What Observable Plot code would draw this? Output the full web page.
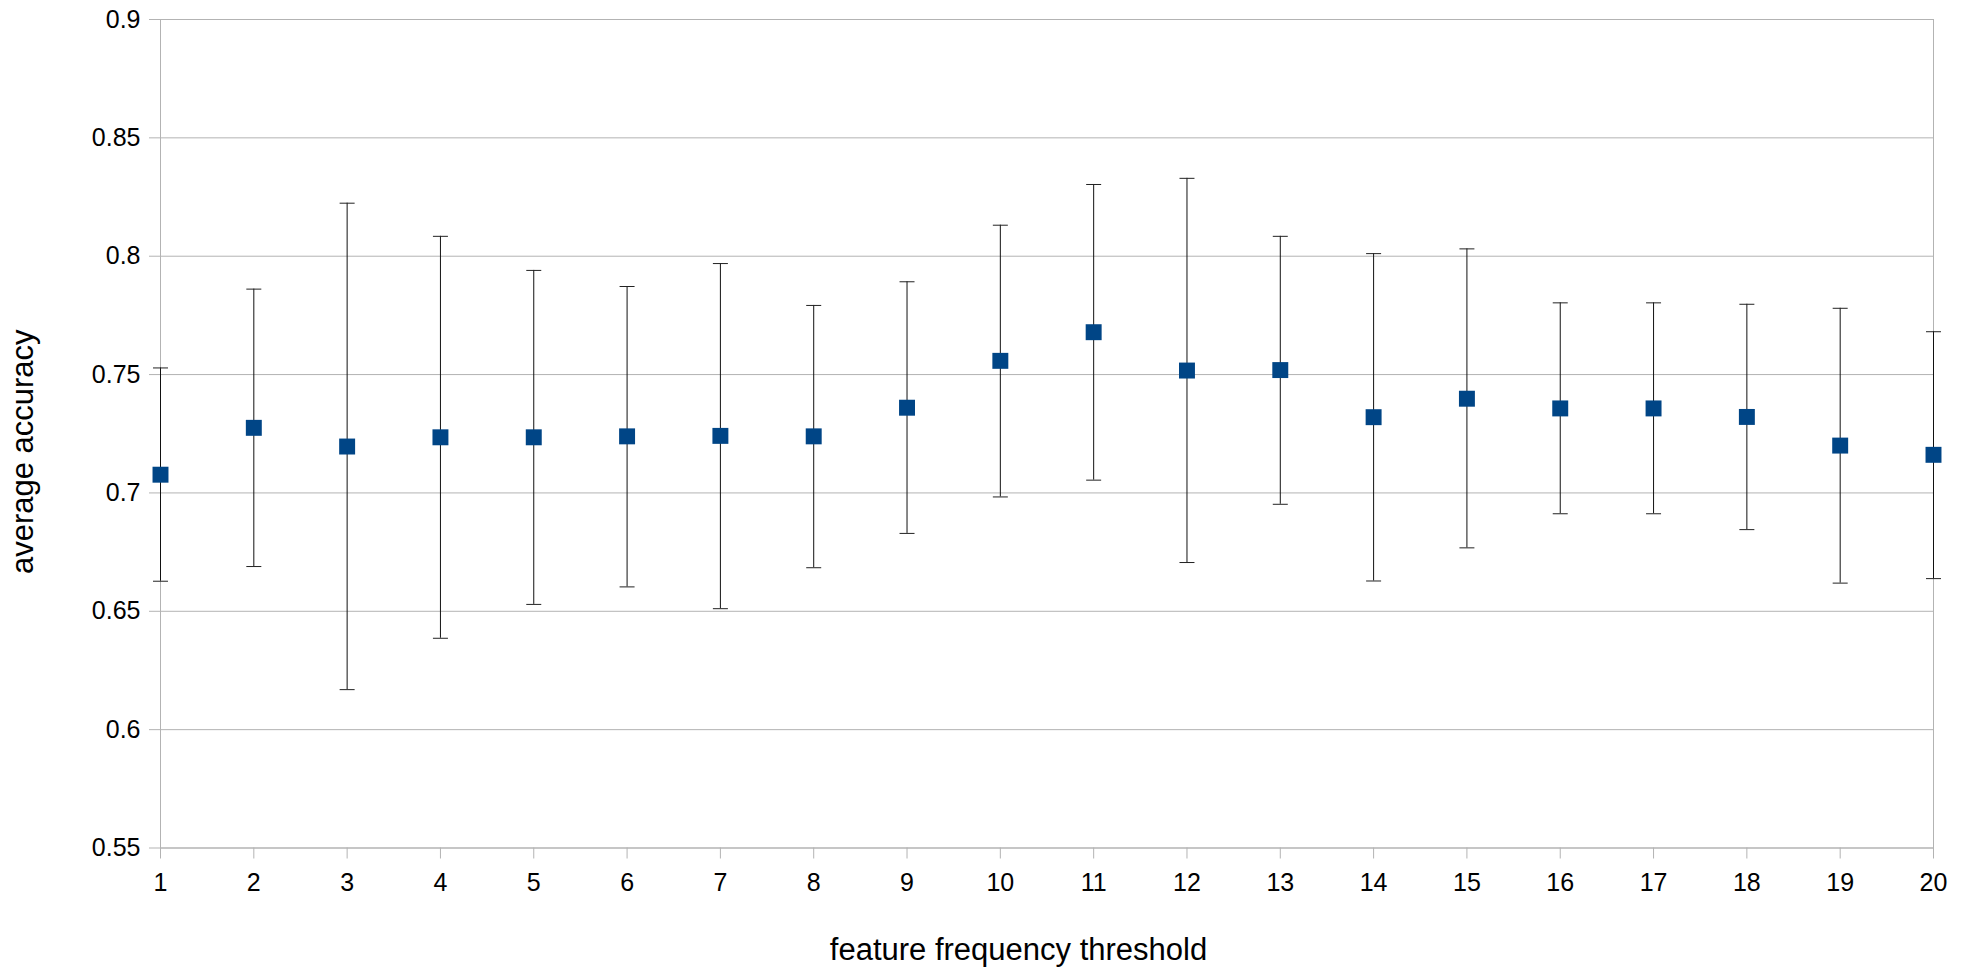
<!DOCTYPE html>
<html>
<head>
<meta charset="utf-8">
<script src="https://cdn.jsdelivr.net/npm/d3@7"></script>
<script src="https://cdn.jsdelivr.net/npm/@observablehq/plot@0.6"></script>
<style>
  html, body { margin: 0; padding: 0; background: #fff; }
  #chart svg { display: block; overflow: visible; }
</style>
</head>
<body>
<div id="chart"></div>
<script>
const thresholds = [1, 2, 3, 4, 5, 6, 7, 8, 9, 10, 11, 12, 13, 14, 15, 16, 17, 18, 19, 20];
const meanAccuracy = [0.7077, 0.7275, 0.7196, 0.7235, 0.7235, 0.7239, 0.7241, 0.7239, 0.7360, 0.7558,
                      0.7679, 0.7517, 0.7519, 0.7320, 0.7398, 0.7357, 0.7357, 0.7321, 0.7200, 0.7161];
const upperBound = [0.7528, 0.7861, 0.8224, 0.8084, 0.7940, 0.7872, 0.7969, 0.7792, 0.7892, 0.8131,
                    0.8303, 0.8329, 0.8084, 0.8011, 0.8031, 0.7803, 0.7803, 0.7797, 0.7780, 0.7681];
const lowerBound = [0.6627, 0.6689, 0.6169, 0.6386, 0.6529, 0.6603, 0.6511, 0.6684, 0.6829, 0.6983,
                    0.7054, 0.6706, 0.6952, 0.6628, 0.6768, 0.6912, 0.6912, 0.6845, 0.6619, 0.6638];
const yTicks = [0.55, 0.6, 0.65, 0.7, 0.75, 0.8, 0.85, 0.9];
const yTickLabels = ["0.55", "0.6", "0.65", "0.7", "0.75", "0.8", "0.85", "0.9"];
const xLabel = "feature frequency threshold";
const yLabel = "average accuracy";

const data = thresholds.map((t, i) => ({t, mean: meanAccuracy[i], lo: lowerBound[i], hi: upperBound[i]}));

const FONT = "'Liberation Sans', Arial, Helvetica, sans-serif";
const GRID = "#b3b3b3";

// horizontal line symbol for error-bar caps
const capSymbol = {
  draw(context, size) {
    const w = Math.sqrt(size) / 2;
    context.moveTo(-w, 0);
    context.lineTo(w, 0);
  }
};

const chart = Plot.plot({
  width: 1969,
  height: 968,
  marginTop: 19,
  marginBottom: 120.5,
  marginLeft: 160,
  marginRight: 36,
  style: {fontFamily: FONT, fontSize: "25px", background: "#fff", color: "#000"},
  x: {domain: [1, 20], ticks: thresholds, label: null},
  y: {domain: [0.55, 0.9], ticks: yTicks, label: null},
  marks: [
    Plot.gridY(yTicks, {stroke: GRID, strokeOpacity: 1, strokeWidth: 1}),
    Plot.frame({stroke: GRID, strokeWidth: 1}),
    Plot.axisY(yTicks, {tickSize: 11, tickPadding: 9, stroke: GRID, fill: "#000", fontSize: 25, label: null,
      tickFormat: d => yTickLabels[yTicks.indexOf(d)]}),
    Plot.axisX(thresholds, {tickSize: 11, tickPadding: 14, stroke: GRID, fill: "#000", fontSize: 25, label: null,
      tickFormat: d => String(d)}),
    Plot.ruleX(data, {x: "t", y1: "lo", y2: "hi", stroke: "#111", strokeWidth: 1}),
    Plot.dot(data, {x: "t", y: "hi", symbol: capSymbol, r: 8.46, stroke: "#222", strokeWidth: 1, fill: "none"}),
    Plot.dot(data, {x: "t", y: "lo", symbol: capSymbol, r: 8.46, stroke: "#222", strokeWidth: 1, fill: "none"}),
    Plot.dot(data, {x: "t", y: "mean", symbol: "square", r: 9.0, fill: "#004586", stroke: "none"}),
    Plot.text([xLabel], {frameAnchor: "bottom", textAnchor: "middle", lineAnchor: "middle", dx: -28.5, dy: 102.5,
      fontSize: 31, fill: "#000", fontFamily: FONT}),
    Plot.text([yLabel], {frameAnchor: "left", textAnchor: "middle", lineAnchor: "middle", rotate: -90, dx: -137, dy: 18,
      fontSize: 31, fill: "#000", fontFamily: FONT})
  ]
});
document.getElementById("chart").appendChild(chart);
</script>
</body>
</html>
